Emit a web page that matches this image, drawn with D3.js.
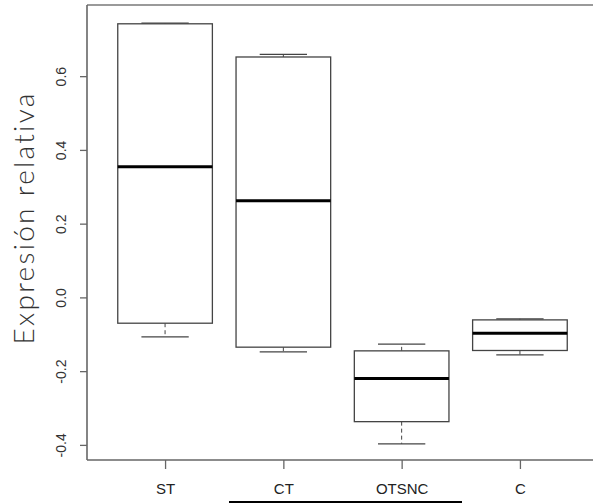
<!DOCTYPE html>
<html>
<head>
<meta charset="utf-8">
<script src="https://cdn.jsdelivr.net/npm/d3@7"></script>
<style>
  body { margin: 0; background: #fff; }
  svg { display: block; }
</style>
</head>
<body>
<div id="chart"></div>
<script>
// boxplot values
var categories = ["ST", "CT", "OTSNC", "C"],
    whiskerHigh = [0.744, 0.659, -0.127, -0.058],
    upperQ = [0.742, 0.652, -0.145, -0.061],
    medians = [0.354, 0.262, -0.220, -0.097],
    lowerQ = [-0.070, -0.135, -0.337, -0.144],
    whiskerLow = [-0.107, -0.148, -0.397, -0.156],
    yTicks = [-0.4, -0.2, 0.0, 0.2, 0.4, 0.6];

var width = 593, height = 504;

var svg = d3.select("#chart").append("svg")
    .attr("width", width).attr("height", height);

// R style: xlim c(0.5, n + 0.5) plus 4% on each side
var x = d3.scaleLinear().domain([0.34, 4.66]).range([87, 598]);
var y = d3.scaleLinear().domain([-0.441, 0.793]).range([460, 5]);

var boxW = (x(1.4) - x(1)) * 2, capW = boxW / 2;

var boxes = categories.map(function(c, i) {
    return {name: c, pos: i + 1, hi: whiskerHigh[i], q3: upperQ[i],
            med: medians[i], q1: lowerQ[i], lo: whiskerLow[i]};
});

// frame
svg.append("line").attr("x1", x(0.34)).attr("x2", x(4.66)).attr("y1", y(0.793)).attr("y2", y(0.793))
    .attr("stroke", "#9a9a9a").attr("stroke-width", 2);
svg.append("line").attr("x1", x(0.34)).attr("x2", x(0.34)).attr("y1", y(0.793)).attr("y2", y(-0.441))
    .attr("stroke", "#666").attr("stroke-width", 1.6);
svg.append("line").attr("x1", x(0.34)).attr("x2", x(4.66)).attr("y1", y(-0.441)).attr("y2", y(-0.441))
    .attr("stroke", "#666").attr("stroke-width", 1.6);

// y axis
var yAxis = svg.append("g")
    .attr("transform", "translate(" + x(0.34) + ",0)")
    .call(d3.axisLeft(y).tickValues(yTicks).tickSize(7).tickFormat(function(d) { return d.toFixed(1); }));
yAxis.select(".domain").remove();
yAxis.selectAll(".tick line").attr("stroke", "#666").attr("stroke-width", 1.3);
yAxis.selectAll(".tick text")
    .attr("x", null).attr("dy", null)
    .attr("transform", "translate(-21,0) rotate(-90)")
    .attr("text-anchor", "middle")
    .attr("fill", "#333")
    .style("font-family", "Liberation Sans, Arial, sans-serif")
    .style("font-size", "14px");

// x axis
var xAxis = svg.append("g")
    .attr("transform", "translate(0," + y(-0.441) + ")")
    .call(d3.axisBottom(x).tickValues([1, 2, 3, 4]).tickSize(9).tickFormat(function(d) { return categories[d - 1]; }));
xAxis.select(".domain").remove();
xAxis.selectAll(".tick line").attr("stroke", "#666").attr("stroke-width", 1.3);
xAxis.selectAll(".tick text")
    .attr("y", 34).attr("dy", null)
    .attr("fill", "#222")
    .style("font-family", "Liberation Sans, Arial, sans-serif")
    .style("font-size", "15px");

// boxes
var g = svg.selectAll(".box").data(boxes).enter().append("g").attr("class", "box");

g.append("line")
    .attr("x1", function(d) { return x(d.pos); }).attr("x2", function(d) { return x(d.pos); })
    .attr("y1", function(d) { return y(d.q3); }).attr("y2", function(d) { return y(d.hi); })
    .attr("stroke", "#444").attr("stroke-dasharray", "4,3");
g.append("line")
    .attr("x1", function(d) { return x(d.pos); }).attr("x2", function(d) { return x(d.pos); })
    .attr("y1", function(d) { return y(d.q1); }).attr("y2", function(d) { return y(d.lo); })
    .attr("stroke", "#444").attr("stroke-dasharray", "4,3");

["hi", "lo"].forEach(function(k) {
    g.append("line")
        .attr("x1", function(d) { return x(d.pos) - capW / 2; })
        .attr("x2", function(d) { return x(d.pos) + capW / 2; })
        .attr("y1", function(d) { return y(d[k]); }).attr("y2", function(d) { return y(d[k]); })
        .attr("stroke", "#444").attr("stroke-width", 1.3);
});

g.append("rect")
    .attr("x", function(d) { return x(d.pos) - boxW / 2; })
    .attr("width", boxW)
    .attr("y", function(d) { return y(d.q3); })
    .attr("height", function(d) { return y(d.q1) - y(d.q3); })
    .attr("fill", "#fff").attr("stroke", "#444").attr("stroke-width", 1.3);

g.append("line")
    .attr("x1", function(d) { return x(d.pos) - boxW / 2; })
    .attr("x2", function(d) { return x(d.pos) + boxW / 2; })
    .attr("y1", function(d) { return y(d.med); }).attr("y2", function(d) { return y(d.med); })
    .attr("stroke", "#000").attr("stroke-width", 3);

// y title
svg.append("text")
    .attr("transform", "translate(34,218) rotate(-90)")
    .attr("text-anchor", "middle")
    .attr("fill", "#333")
    .style("font-family", "Lato, sans-serif")
    .style("font-weight", 300)
    .style("font-size", "28px")
    .style("letter-spacing", "2.3px")
    .text("Expresión relativa");

// black rule under the labels
svg.append("line").attr("x1", 229).attr("x2", 462).attr("y1", 502).attr("y2", 502)
    .attr("stroke", "#000").attr("stroke-width", 2);
</script>
</body>
</html>
